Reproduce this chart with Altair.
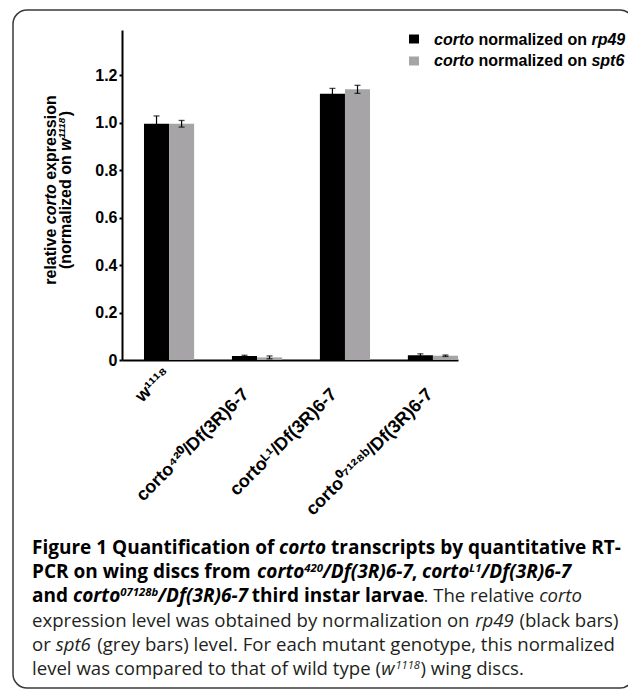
import altair as alt
import pandas as pd

# ---------------- data ----------------
genotypes = ["w¹¹¹⁸", "corto⁴²⁰/Df(3R)6-7", "cortoᴸ¹/Df(3R)6-7", "corto⁰⁷¹²⁸ᵇ/Df(3R)6-7"]
series = ["corto normalized on rp49", "corto normalized on spt6"]
rp49_values = [0.995, 0.017, 1.122, 0.020]
rp49_errors = [0.033, 0.003, 0.022, 0.006]
spt6_values = [0.995, 0.011, 1.140, 0.018]
spt6_errors = [0.014, 0.006, 0.017, 0.003]
bar_colors = ["#000000", "#a6a4a7"]
y_ticks = [0, 0.2, 0.4, 0.6, 0.8, 1.0, 1.2]

rows = []
for s, vals, errs in [(series[0], rp49_values, rp49_errors), (series[1], spt6_values, spt6_errors)]:
    for g, v, e in zip(genotypes, vals, errs):
        rows.append({"genotype": g, "series": s, "value": v, "lo": v - e, "hi": v + e})
df = pd.DataFrame(rows)

# ---------------- text runs (text, style, superscript) ----------------
caption_lines = [
    [("Figure 1 Quantification of ", "b", 0), ("corto", "bi", 0), (" transcripts by quantitative RT-", "b", 0)],
    [("PCR on wing discs from ", "b", 0), ("corto", "bi", 0), ("420", "bi", 1), ("/Df(3R)6-7", "bi", 0),
     (", ", "b", 0), ("corto", "bi", 0), ("L1", "bi", 1), ("/Df(3R)6-7", "bi", 0)],
    [("and ", "b", 0), ("corto", "bi", 0), ("07128b", "bi", 1), ("/Df(3R)6-7", "bi", 0),
     (" third instar larvae", "b", 0), (". The relative ", "r", 0), ("corto", "i", 0)],
    [("expression level was obtained by normalization on ", "r", 0), ("rp49", "i", 0), (" (black bars)", "r", 0)],
    [("or ", "r", 0), ("spt6", "i", 0), (" (grey bars) level. For each mutant genotype, this normalized", "r", 0)],
    [("level was compared to that of wild type (", "r", 0), ("w", "i", 0), ("1118", "i", 1), (") wing discs.", "r", 0)],
]
ytitle_lines = [
    [("relative ", "b", 0), ("corto", "bi", 0), (" expression", "b", 0)],
    [("(normalized on ", "b", 0), ("w", "bi", 0), ("1118", "bi", 1), (")", "b", 0)],
]

# approximate advance widths (units per 2048 em) for Open Sans
REG = {' ': 532, 'a': 1139, 'b': 1255, 'c': 975, 'd': 1255, 'e': 1149, 'f': 694, 'g': 1122, 'h': 1257,
       'i': 518, 'k': 1075, 'l': 518, 'm': 1905, 'n': 1257, 'o': 1237, 'p': 1255, 'q': 1255, 'r': 836,
       's': 977, 't': 723, 'u': 1257, 'v': 1026, 'w': 1593, 'x': 1073, 'y': 1028, 'z': 977, '(': 608,
       ')': 608, ',': 498, '.': 545, '-': 659, '/': 752, 'F': 1126, 'T': 1130, 'R': 1298, 'P': 1255,
       'C': 1298, 'D': 1487, 'L': 1098, 'Q': 1597}
BOLD = {' ': 532, 'a': 1243, 'b': 1298, 'c': 1061, 'd': 1298, 'e': 1227, 'f': 799, 'g': 1143, 'h': 1352,
        'i': 621, 'k': 1296, 'l': 621, 'm': 2040, 'n': 1352, 'o': 1280, 'p': 1298, 'q': 1298, 'r': 918,
        's': 1044, 't': 815, 'u': 1352, 'v': 1190, 'w': 1735, 'x': 1223, 'y': 1188, 'z': 1010, '(': 694,
        ')': 694, ',': 586, '.': 594, '-': 672, '/': 803, 'F': 1208, 'T': 1169, 'R': 1391, 'P': 1325,
        'C': 1300, 'D': 1511, 'L': 1120, 'Q': 1599}
# Arial (Liberation Sans) bold advance widths, units per 1000 em
ARIAL_B = {' ': 278, 'a': 556, 'c': 556, 'd': 611, 'e': 556, 'i': 278, 'l': 278, 'm': 889, 'n': 611,
           'o': 611, 'p': 611, 'r': 389, 's': 556, 't': 333, 'v': 556, 'x': 556, 'z': 500, 'w': 778,
           '(': 333, ')': 333}
ITALIC_FACTOR = {"b": 1.0, "r": 1.0, "bi": 0.95, "i": 0.98}


def os_width(text, style, fs):
    table = BOLD if style.startswith("b") else REG
    total = sum(table.get(ch, 1171) for ch in text) / 2048.0
    return total * fs * ITALIC_FACTOR[style]


def arial_width(text, style, fs):
    return sum(ARIAL_B.get(ch, 556) for ch in text) / 1000.0 * fs


# caption: horizontal runs
CAP_FS = {"b": 19, "bi": 19, "r": 18.6, "i": 18.6}
CAP_X0 = -90
CAP_Y0 = 524
CAP_LH = 24.2
cap_rows = []
for i, runs in enumerate(caption_lines):
    x = CAP_X0
    y = CAP_Y0 + i * CAP_LH
    for text, style, sup in runs:
        fs = CAP_FS[style] * (0.6 if sup else 1.0)
        lead = len(text) - len(text.lstrip(" "))
        cap_rows.append({"px": x + os_width(" " * lead, style, fs), "py": y - (6.5 if sup else 0),
                         "text": text.strip(" "), "style": style, "fs": fs})
        x += os_width(text, style, fs)
cap_df = pd.DataFrame(cap_rows)

# y-axis title: runs rotated 270 degrees, reading upward, centred at y = 160
YT_FS = 16
yt_rows = []
for i, (runs, xline) in enumerate(zip(ytitle_lines, [-71, -56])):
    total = sum(arial_width(t, s, YT_FS * (0.62 if sp else 1)) for t, s, sp in runs)
    y = 160 + total / 2
    for text, style, sup in runs:
        fs = YT_FS * (0.62 if sup else 1.0)
        lead = len(text) - len(text.lstrip(" "))
        yt_rows.append({"px": xline - (4 if sup else 0), "py": y - arial_width(" " * lead, style, fs),
                        "text": text.strip(" "), "style": style, "fs": fs})
        y -= arial_width(text, style, fs)
yt_df = pd.DataFrame(yt_rows)

# legend text runs (Liberation Sans bold, 16px)
legend_rows = [
    {"px": 312, "py": 10, "text": "corto", "style": "bi"},
    {"px": 356.5, "py": 10, "text": "normalized on", "style": "b"},
    {"px": 469.4, "py": 10, "text": "rp49", "style": "bi"},
    {"px": 312, "py": 31, "text": "corto", "style": "bi"},
    {"px": 356.5, "py": 31, "text": "normalized on", "style": "b"},
    {"px": 469.4, "py": 31, "text": "spt6", "style": "bi"},
]
leg_df = pd.DataFrame(legend_rows)
leg_box_df = pd.DataFrame({"series": series, "y0": [4.5, 26.5], "y1": [13.5, 35.5]})

# ---------------- main chart ----------------
FONT = "Liberation Sans"
W1118 = "datum.value === 'w¹¹¹⁸'"
LAST = "datum.value === 'corto⁰⁷¹²⁸ᵇ/Df(3R)6-7'"
x_axis = alt.Axis(
    title=None, labelAngle=-45, ticks=False,
    labelPadding={"condition": {"test": W1118, "value": 4}, "value": 25},
    labelOffset={"condition": [{"test": W1118, "value": -8}, {"test": LAST, "value": -9}], "value": -17},
    labelFont=FONT, labelFontWeight="bold", labelFontSize=18, labelColor="#000000",
    domainColor="#000000", domainWidth=2, labelLimit=400,
)
x_enc = alt.X("genotype:N", sort=genotypes,
              scale=alt.Scale(paddingInner=0.43, paddingOuter=0.125, align=1), axis=x_axis)
xoff = alt.XOffset("series:N", sort=series, scale=alt.Scale(paddingInner=0, paddingOuter=0))
y_scale = alt.Scale(domain=[0, 1.39], nice=False, zero=True)
y_axis = alt.Axis(
    values=y_ticks, labelExpr="datum.value == 0 ? '0' : format(datum.value, '.1f')",
    grid=False, tickSize=3, tickWidth=2, tickColor="#000000", domainColor="#000000", domainWidth=2,
    labelPadding=2, labelFont=FONT, labelFontWeight="bold", labelFontSize=16, labelColor="#000000",
    title=None,
)

bars = alt.Chart(df).mark_bar().encode(
    x=x_enc, xOffset=xoff,
    y=alt.Y("value:Q", scale=y_scale, axis=y_axis),
    color=alt.Color("series:N", scale=alt.Scale(domain=series, range=bar_colors), legend=None),
)
rules = alt.Chart(df).mark_rule(color="#000000", strokeWidth=1.2).encode(
    x=x_enc, xOffset=xoff, y=alt.Y("lo:Q", scale=y_scale), y2="hi:Q",
)
caps_hi = alt.Chart(df).mark_tick(color="#000000", thickness=1.3, size=6, orient="horizontal").encode(
    x=x_enc, xOffset=xoff, y=alt.Y("hi:Q", scale=y_scale),
)
caps_lo = alt.Chart(df).mark_tick(color="#000000", thickness=1.3, size=6, orient="horizontal").encode(
    x=x_enc, xOffset=xoff, y=alt.Y("lo:Q", scale=y_scale),
)
main = alt.layer(bars, rules, caps_hi, caps_lo)

# ---------------- annotations ----------------
px = alt.X("px:Q", scale=None, axis=None)
py = alt.Y("py:Q", scale=None, axis=None)
fsz = alt.Size("fs:Q", scale=None, legend=None)

leg_boxes = alt.Chart(leg_box_df).mark_rect().encode(
    x=alt.value(287), x2=alt.value(297),
    y=alt.Y("y0:Q", scale=None, axis=None), y2="y1:Q",
    fill=alt.Fill("series:N", scale=alt.Scale(domain=series, range=bar_colors), legend=None),
)
leg_text_b = alt.Chart(leg_df).transform_filter("datum.style == 'b'").mark_text(
    font=FONT, fontSize=16, fontWeight="bold", align="left", baseline="middle", color="#000000"
).encode(x=px, y=py, text="text:N")
leg_text_bi = alt.Chart(leg_df).transform_filter("datum.style == 'bi'").mark_text(
    font=FONT, fontSize=16, fontWeight="bold", fontStyle="italic", align="left", baseline="middle",
    color="#000000"
).encode(x=px, y=py, text="text:N")

yt_layers = []
for style, fstyle in [("b", "normal"), ("bi", "italic")]:
    yt_layers.append(
        alt.Chart(yt_df).transform_filter(f"datum.style == '{style}'").mark_text(
            font=FONT, fontWeight="bold", fontStyle=fstyle, align="left", baseline="middle",
            angle=270, color="#000000"
        ).encode(x=px, y=py, text="text:N", size=fsz)
    )

cap_layers = []
for style, weight, fstyle, col in [("b", "bold", "normal", "#000000"), ("bi", "bold", "italic", "#000000"),
                                   ("r", "normal", "normal", "#231f20"), ("i", "normal", "italic", "#231f20")]:
    cap_layers.append(
        alt.Chart(cap_df).transform_filter(f"datum.style == '{style}'").mark_text(
            font="Open Sans", fontWeight=weight, fontStyle=fstyle, align="left", baseline="alphabetic",
            color=col
        ).encode(x=px, y=py, text="text:N", size=fsz)
    )

border = alt.Chart(pd.DataFrame({"k": [0]})).mark_rect(
    fillOpacity=0, stroke="#3a3a3a", strokeWidth=1.5, cornerRadius=14
).encode(x=alt.value(-109), x2=alt.value(512), y=alt.value(-20), y2=alt.value(658))

annotations = alt.layer(border, leg_boxes, leg_text_b, leg_text_bi, *yt_layers, *cap_layers)

chart = alt.layer(main, annotations).resolve_scale(
    x="independent", y="independent", fill="independent", color="independent", size="independent"
).properties(
    width=336, height=330, autosize="none",
    padding={"left": 114, "top": 22, "right": 170, "bottom": 330},
).configure_view(stroke=None)

chart.save("out.html", embed_options={"renderer": "svg", "actions": False})
